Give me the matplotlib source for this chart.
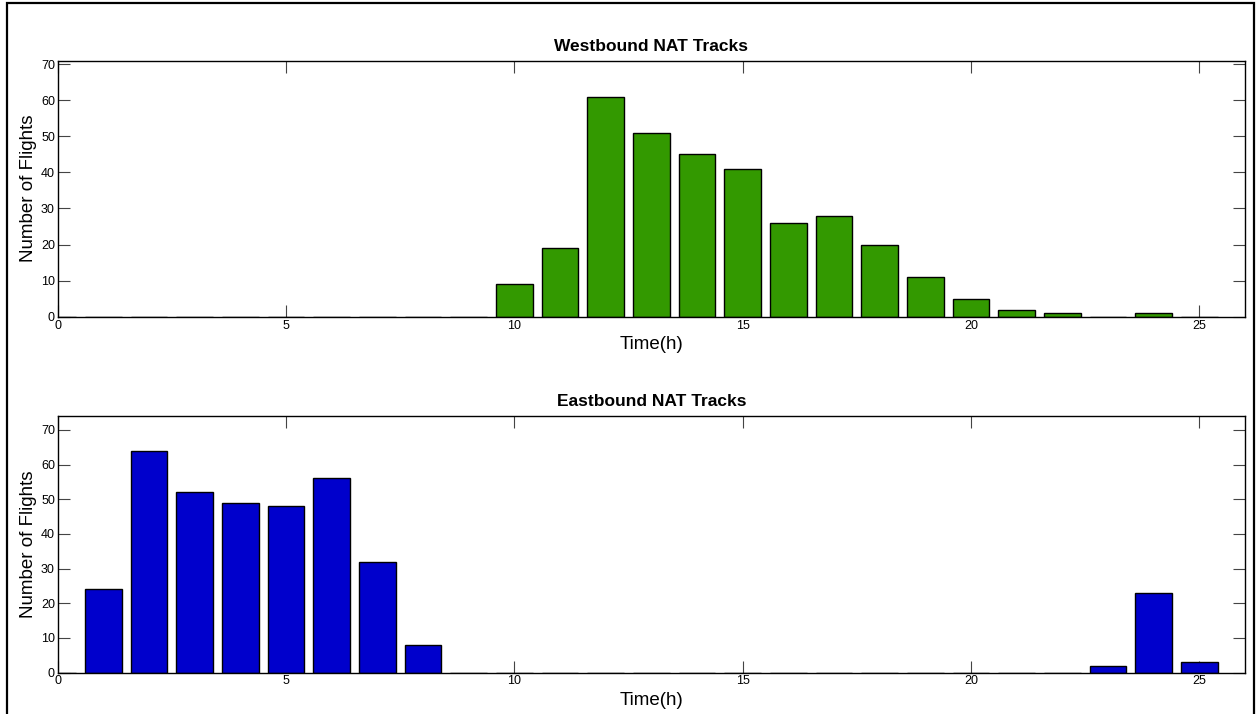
import numpy as np
import matplotlib
matplotlib.use("Agg")
from matplotlib import pyplot as plt
from matplotlib.patches import Rectangle

# hourly flight counts on the North Atlantic tracks
hours = list(range(0, 26))
westbound = [0, 0, 0, 0, 0, 0, 0, 0, 0, 0, 9, 19, 61, 51, 45, 41, 26, 28, 20, 11, 5, 2, 1, 0, 1, 0]
eastbound = [0, 24, 64, 52, 49, 48, 56, 32, 8, 0, 0, 0, 0, 0, 0, 0, 0, 0, 0, 0, 0, 0, 0, 2, 23, 3]

x_ticks = [0, 5, 10, 15, 20, 25]
y_ticks = [0, 10, 20, 30, 40, 50, 60, 70]

plt.rcParams['font.family'] = ['Liberation Sans', 'DejaVu Sans']


def draw_panel(ax, counts, color, title, ytop):
    """
    Draws one bar panel in the old matlab look.
    """
    ax.bar(hours, counts, width=0.8, color=color, edgecolor='black', linewidth=1.0, zorder=2)
    ax.set_xlim(0, 26)
    ax.set_ylim(0, ytop)
    ax.set_xticks(x_ticks)
    ax.set_yticks(y_ticks)
    ax.tick_params(direction='in', length=8.5, width=0.8, color='#444444',
                   top=True, right=True, labelsize=9, pad=2)
    for side in ax.spines.values():
        side.set_linewidth(1.0)
    ax.set_title(title, fontsize=12.5, fontweight='bold', pad=7)
    ax.set_xlabel("Time(h)", fontsize=13.5, labelpad=3.5)
    ax.set_ylabel("Number of Flights", fontsize=13.5, labelpad=3)


fig = plt.figure(figsize=(12.57, 7.14), dpi=100)
fig.patch.set_facecolor('white')

ax_top = fig.add_axes([0.0459, 0.5564, 0.9446, 0.3588])
ax_bot = fig.add_axes([0.0459, 0.0581, 0.9446, 0.3592])

draw_panel(ax_top, westbound, '#339900', "Westbound NAT Tracks", 71)
draw_panel(ax_bot, eastbound, '#0000cc', "Eastbound NAT Tracks", 74)

# outer frame around the whole figure
frame = Rectangle((7 / 1257, -0.01), (1254 - 7) / 1257, (714 - 3) / 714 + 0.01,
                  transform=fig.transFigure, fill=False, edgecolor='black',
                  linewidth=1.6, clip_on=False)
fig.patches.append(frame)

fig.savefig("out.png", dpi=100)
